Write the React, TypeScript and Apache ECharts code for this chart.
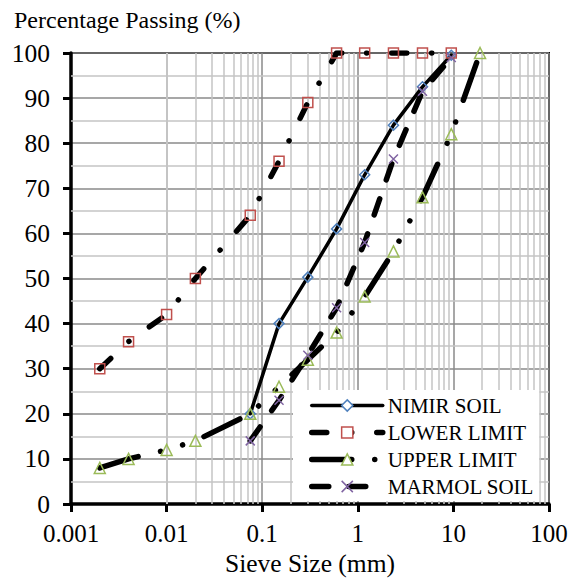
import React, { useEffect, useRef } from 'react';
import * as echarts from 'echarts';

// ---- data ----
const nimirSizes = [0.075, 0.15, 0.3, 0.6, 1.18, 2.36, 4.75, 9.5];
const nimirPassing = [20, 40, 50.3, 61, 73, 84, 92.5, 99.5];

const lowerSizes = [0.002, 0.004, 0.01, 0.02, 0.075, 0.15, 0.3, 0.6, 1.18, 2.36, 4.75, 9.5];
const lowerPassing = [30, 36, 42, 50, 64, 76, 89, 100, 100, 100, 100, 100];

const upperSizes = [0.002, 0.004, 0.01, 0.02, 0.075, 0.15, 0.3, 0.6, 1.18, 2.36, 4.75, 9.5, 19];
const upperPassing = [8, 10, 12, 14, 20, 26, 32, 38, 46, 56, 68, 82, 100];

const marmolSizes = [0.075, 0.15, 0.3, 0.6, 1.18, 2.36, 4.75, 9.5];
const marmolPassing = [14, 23, 33, 43.5, 58, 76.5, 91.5, 99];

const seriesNames = ['NIMIR SOIL', 'LOWER LIMIT', 'UPPER LIMIT', 'MARMOL SOIL'];
const markerColors = ['#4F81BD', '#C0504D', '#9BBB59', '#8064A2'];
const lineWidths = [3.5, 5.5, 5.5, 5.5];

const xTickLabels = ['0.001', '0.01', '0.1', '1', '10', '100'];
const decades = [0.001, 0.01, 0.1, 1, 10];
const minorMultipliers = [2, 3, 4, 5, 6, 7, 8, 9];
const yMinorLines = [5, 15, 25, 35, 45, 55, 65, 75, 85, 95];

const FONT = 'Liberation Serif';

export default function App() {
  const ref = useRef<HTMLDivElement>(null);

  useEffect(() => {
    const chart = echarts.init(ref.current as HTMLDivElement, null, { renderer: 'svg' });
    const toPairs = (xs: number[], ys: number[]) => xs.map((x, i) => [x, ys[i]]);
    const hollow = (c: string) => ({ color: 'rgba(255,255,255,0)', borderColor: c, borderWidth: 1.5 });
    const minorX = decades.flatMap((d) =>
      minorMultipliers.map((m) => ({ xAxis: Number((d * m).toPrecision(6)) }))
    );
    const minorY = yMinorLines.map((v) => ({ yAxis: v }));

    chart.setOption({
      animation: false,
      textStyle: { fontFamily: FONT },
      title: {
        text: 'Percentage Passing (%)',
        left: 14,
        top: 8,
        padding: 0,
        textStyle: { fontFamily: FONT, fontSize: 24, fontWeight: 'normal', color: '#000' },
      },
      grid: {
        left: 71,
        right: 20,
        top: 53,
        bottom: 74,
        containLabel: false,
        outerBoundsMode: 'none',
        show: true,
        borderColor: '#000',
        borderWidth: 2,
        backgroundColor: 'transparent',
      },
      legend: {
        orient: 'vertical',
        left: 293,
        top: 390,
        backgroundColor: '#fff',
        padding: [5, 5, 4, 16],
        itemGap: 6,
        itemWidth: 71,
        itemHeight: 14,
        textStyle: { fontFamily: FONT, fontSize: 21, color: '#000' },
        data: seriesNames.map((n, i) => ({
          name: n,
          itemStyle: { color: '#fff', borderColor: markerColors[i], borderWidth: 1.5 },
          lineStyle: { width: lineWidths[i] },
        })),
      },
      xAxis: {
        type: 'log',
        logBase: 10,
        min: 0.001,
        max: 100,
        name: 'Sieve Size (mm)',
        nameLocation: 'middle',
        nameGap: 45,
        nameTextStyle: { fontFamily: FONT, fontSize: 25.5, color: '#000' },
        axisLine: { show: true, lineStyle: { color: '#000', width: 3.5 } },
        axisTick: { show: true, inside: false, length: 8, lineStyle: { color: '#000', width: 3 } },
        axisLabel: {
          margin: 17,
          fontFamily: FONT,
          fontSize: 25,
          color: '#000',
          formatter: (v: number) => xTickLabels[Math.round(Math.log10(v)) + 3],
        },
        splitLine: { show: true, lineStyle: { color: '#8A8A8A', width: 1.5 } },
      },
      yAxis: {
        type: 'value',
        min: 0,
        max: 100,
        interval: 10,
        axisLine: { show: true, onZero: false, lineStyle: { color: '#000', width: 3.5 } },
        axisTick: { show: true, inside: false, length: 8, lineStyle: { color: '#000', width: 3 } },
        axisLabel: { margin: 21, fontFamily: FONT, fontSize: 25.5, color: '#000' },
        splitLine: { show: true, lineStyle: { color: '#8A8A8A', width: 1.5 } },
      },
      series: [
        {
          name: '__grid',
          type: 'line',
          data: [],
          silent: true,
          z: 1,
          markLine: {
            silent: true,
            z: 1,
            symbol: 'none',
            label: { show: false },
            emphasis: { disabled: true },
            lineStyle: { color: '#C4C4C4', width: 1.5, type: 'solid' },
            data: [...minorX, ...minorY],
          },
        },
        {
          name: seriesNames[0],
          type: 'line',
          z: 3,
          data: toPairs(nimirSizes, nimirPassing),
          symbol: 'diamond',
          symbolSize: 10,
          showAllSymbol: true,
          lineStyle: { color: '#000', width: lineWidths[0], cap: 'round', join: 'round' },
          itemStyle: hollow(markerColors[0]),
          emphasis: { disabled: true },
        },
        {
          name: seriesNames[1],
          type: 'line',
          z: 3,
          data: toPairs(lowerSizes, lowerPassing),
          symbol: 'rect',
          symbolSize: 10,
          showAllSymbol: true,
          lineStyle: {
            color: '#000',
            width: lineWidths[1],
            type: [15, 25, 0.01, 25],
            cap: 'round',
            join: 'round',
          },
          itemStyle: hollow(markerColors[1]),
          emphasis: { disabled: true },
        },
        {
          name: seriesNames[2],
          type: 'line',
          z: 3,
          data: toPairs(upperSizes, upperPassing),
          symbol: 'triangle',
          symbolSize: 11,
          showAllSymbol: true,
          lineStyle: {
            color: '#000',
            width: lineWidths[2],
            type: [40, 23, 0.01, 23, 0.01, 23],
            cap: 'round',
            join: 'round',
          },
          itemStyle: hollow(markerColors[2]),
          emphasis: { disabled: true },
        },
        {
          name: seriesNames[3],
          type: 'line',
          z: 3,
          data: toPairs(marmolSizes, marmolPassing),
          symbol: 'path://M0,0L10,10M10,0L0,10',
          symbolSize: 9,
          showAllSymbol: true,
          lineStyle: {
            color: '#000',
            width: lineWidths[3],
            type: [17, 20],
            cap: 'round',
            join: 'round',
          },
          itemStyle: hollow(markerColors[3]),
          emphasis: { disabled: true },
        },
      ],
    });

    return () => {
      chart.dispose();
    };
  }, []);

  return (
    <div
      ref={ref}
      style={{ position: 'absolute', left: 0, top: 0, width: 569, height: 578, background: '#fff' }}
    />
  );
}
